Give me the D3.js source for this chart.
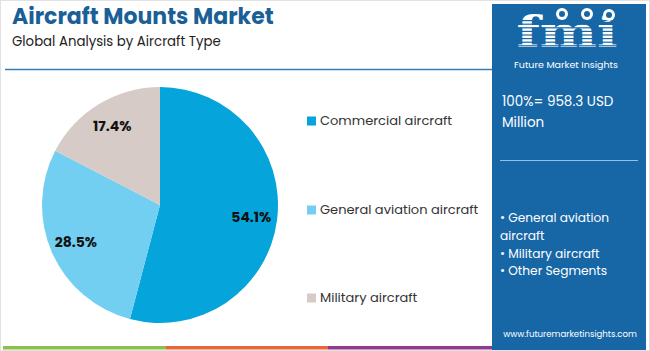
<!DOCTYPE html>
<html><head><meta charset="utf-8">
<script src="https://cdn.jsdelivr.net/npm/d3@7"></script>
<style>body{margin:0;background:#fff}svg{display:block}</style>
</head><body>
<script>
const categories = ["Commercial aircraft", "General aviation aircraft", "Military aircraft"];
const values = [54.1, 28.5, 17.4];
const colors = ["#05a4db", "#72cff1", "#d6cbc7"];
const bullets = ["• General aviation", "aircraft", "• Military aircraft", "• Other Segments"];
const totalLabel = ["100%= 958.3 USD", "Million"];

const W = 650, H = 351;
const svg = d3.select("body").append("svg").attr("width", W).attr("height", H);
const font = "Poppins, 'Open Sans', Inter, sans-serif";

svg.append("rect").attr("x",0.5).attr("y",0.5).attr("width",W-1).attr("height",H-1).attr("fill","#fff").attr("stroke","#e2e2e2");

svg.append("text").attr("x",12).attr("y",24).attr("font-family",font).attr("font-weight",700)
  .attr("font-size",22).attr("fill","#1b5f97").text("Aircraft Mounts Market");
svg.append("text").attr("x",12).attr("y",45.5).attr("font-family",font)
  .attr("font-size",13.3).attr("fill","#222").text("Global Analysis by Aircraft Type");
svg.append("line").attr("x1",5).attr("x2",492).attr("y1",69.5).attr("y2",69.5).attr("stroke","#3a7db5").attr("stroke-width",1.5);

// bottom bars
const bars = [["#8cc04b",3,166],["#e8663a",166,328],["#8e3a8e",328,492]];
bars.forEach(b => svg.append("rect").attr("x",b[1]).attr("y",346).attr("width",b[2]-b[1]).attr("height",3.5).attr("fill",b[0]));

// right panel
svg.append("rect").attr("x",492).attr("y",4).attr("width",154).attr("height",346).attr("fill","#1767a7");
// logo
const lg = svg.append("g");
lg.append("text").attr("x",567).attr("y",47).attr("text-anchor","middle").attr("font-family","'DejaVu Serif', serif")
  .attr("font-weight",700).attr("font-size",40).attr("fill","#fff")
  .attr("transform","translate(567,47) scale(1.35,1.05) translate(-567,-47)").text("fmi");
for (let y=20; y<50; y+=3.6) lg.append("rect").attr("x",505).attr("y",y).attr("width",125).attr("height",1.2).attr("fill","#1767a7");
[[562,14],[587,14],[609,15]].forEach(p=>{
  lg.append("circle").attr("cx",p[0]).attr("cy",p[1]).attr("r",6).attr("fill","#fff");
  lg.append("circle").attr("cx",p[0]).attr("cy",p[1]).attr("r",3).attr("fill","#1767a7");
});
lg.append("text").attr("x",566).attr("y",68).attr("text-anchor","middle").attr("font-family",font)
  .attr("font-size",9.5).attr("fill","#fff").text("Future Market Insights");

totalLabel.forEach((t,i)=> svg.append("text").attr("x",502).attr("y",106+i*21).attr("font-family",font)
  .attr("font-size",13.5).attr("fill","#fff").text(t));
svg.append("line").attr("x1",500).attr("x2",638).attr("y1",160.5).attr("y2",160.5).attr("stroke","#8fc3ea").attr("stroke-width",1.2);
bullets.forEach((t,i)=> svg.append("text").attr("x",500).attr("y",222+i*17.8).attr("font-family",font)
  .attr("font-size",12.2).attr("fill","#fff").text(t));
svg.append("text").attr("x",570).attr("y",337).attr("text-anchor","middle").attr("font-family",font)
  .attr("font-size",8.6).attr("fill","#fff").text("www.futuremarketinsights.com");

// pie
const cx = 160, cy = 205, r = 118;
const pie = d3.pie().sort(null).value(d=>d)(values);
const arc = d3.arc().innerRadius(0).outerRadius(r);
const color = d3.scaleOrdinal().domain(categories).range(colors);
const g = svg.append("g").attr("transform",`translate(${cx},${cy})`);
g.selectAll("path").data(pie).join("path").attr("d",arc).attr("fill",(d,i)=>color(categories[i]));
const labelArc = d3.arc().innerRadius(r*0.78).outerRadius(r*0.78);
g.selectAll("text.lbl").data(pie).join("text").attr("class","lbl")
  .attr("transform",d=>`translate(${labelArc.centroid(d)})`)
  .attr("text-anchor","middle").attr("dy","0.35em").attr("font-family",font).attr("font-weight",700)
  .attr("font-size",14).attr("fill","#111").text(d=>d.data.toFixed(1)+"%");

// legend
const ly = [125, 214, 302];
categories.forEach((c,i)=>{
  svg.append("rect").attr("x",307).attr("y",ly[i]-8.5).attr("width",9).attr("height",9).attr("fill",colors[i]);
  svg.append("text").attr("x",320).attr("y",ly[i]).attr("font-family",font).attr("font-size",13).attr("fill","#333").text(c);
});
</script>
</body></html>
